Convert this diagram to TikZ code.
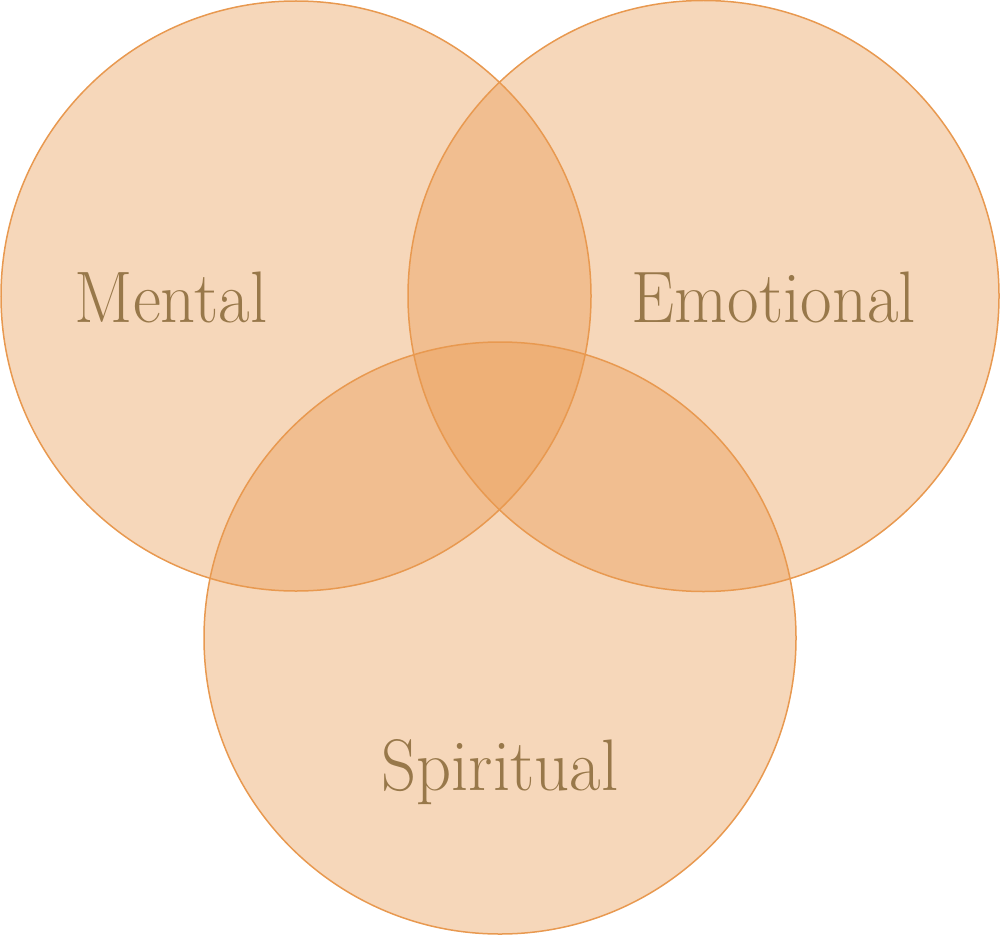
\documentclass[tikz,border=0pt]{standalone}
\usepackage{graphicx}
\definecolor{vfill}{RGB}{233,154,82}
\definecolor{vline}{RGB}{232,153,80}
\definecolor{vtext}{RGB}{152,120,74}
\tikzset{
  venn/.style={fill=vfill, fill opacity=0.4, draw=none},
  vennline/.style={draw=vline, line width=1.5pt},
  lbl/.style={text=vtext, inner sep=0pt, anchor=base, font=\fontsize{73}{80}\selectfont}
}
\begin{document}
\begin{tikzpicture}[x=1pt,y=-1pt]
\useasboundingbox (0,0) rectangle (1000,936);
\coordinate (cm) at (296,296);
\coordinate (ce) at (703.5,296);
\coordinate (cs) at (500,638);
\fill[venn] (cm) circle (295);
\fill[venn] (ce) circle (295.5);
\fill[venn] (cs) circle (296);
\draw[vennline] (cm) circle (295);
\draw[vennline] (ce) circle (295.5);
\draw[vennline] (cs) circle (296);
\node[lbl] (mental) at (171,322) {\scalebox{0.94}[1]{Mental}};
\node[lbl] (emotional) at (774,322) {\scalebox{0.94}[1]{Emotional}};
\node[lbl] (spiritual) at (500,790) {\scalebox{0.94}[1]{Spiritual}};
\end{tikzpicture}
\end{document}
